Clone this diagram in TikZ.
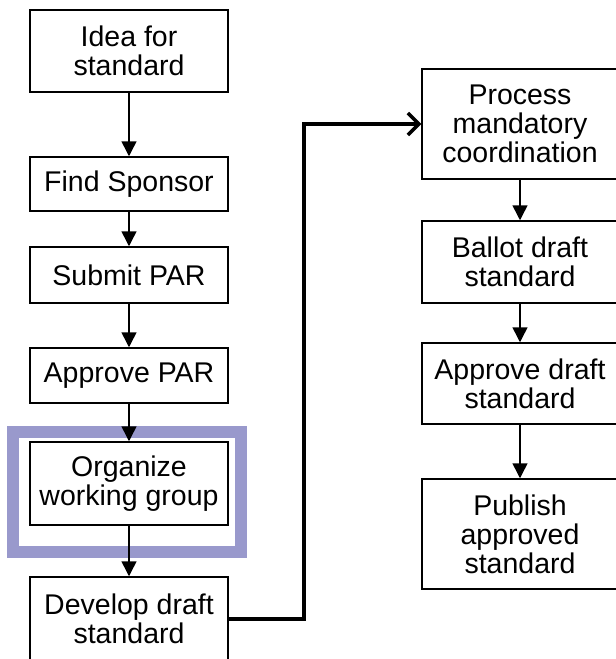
\documentclass[tikz,border=0pt]{standalone}
\usepackage{fontspec}
\setmainfont{Liberation Sans}
\usetikzlibrary{arrows.meta}

\definecolor{hilite}{RGB}{153,153,204}

\begin{document}
\begin{tikzpicture}[x=1pt, y=-1pt,
    stepbox/.style={draw, line width=1.5pt, align=center, inner sep=0pt,
      font=\fontsize{28.5}{29}\selectfont},
    flow/.style={line width=1.5pt, -{Triangle[width=15pt,length=15pt]}},
    jump/.style={line width=4pt, -{Straight Barb[width=22pt,length=11pt,line width=3.5pt]}}]
          \useasboundingbox (0, 0) rectangle (616, 659);%
          % left column
          \node [stepbox, minimum width=198pt, minimum height=82pt] (idea) at (129, 51) {Idea for\\standard};%
          \node [stepbox, minimum width=198pt, minimum height=54pt] (sponsor) at (129, 184) {Find Sponsor};%
          \node [stepbox, minimum width=198pt, minimum height=56pt] (submit) at (129, 275) {Submit PAR};%
          \node [stepbox, minimum width=198pt, minimum height=55pt] (approvepar) at (129, 375.5) {Approve PAR};%
          \node [stepbox, minimum width=198pt, minimum height=83pt] (organize) at (129, 483.5) {Organize\\working group};%
          \node [stepbox, minimum width=198pt, minimum height=83pt] (develop) at (129, 618.5) {Develop draft\\standard};%
          % right column
          \node [stepbox, minimum width=196pt, minimum height=110pt] (process) at (520, 124) {Process\\mandatory\\coordination};%
          \node [stepbox, minimum width=196pt, minimum height=82pt] (ballot) at (520, 262) {Ballot draft\\standard};%
          \node [stepbox, minimum width=196pt, minimum height=81pt] (approvedraft) at (520, 383.5) {Approve draft\\standard};%
          \node [stepbox, minimum width=196pt, minimum height=110pt] (publish) at (520, 534) {Publish\\approved\\standard};%
          % highlight
          \draw [hilite, line width=12pt] (13, 432) rectangle (241, 552);%
          % arrows
          \draw [flow] (idea) -- (sponsor);%
          \draw [flow] (sponsor) -- (submit);%
          \draw [flow] (submit) -- (approvepar);%
          \draw [flow] (approvepar) -- (organize);%
          \draw [flow] (organize) -- (develop);%
          \draw [jump] (develop.east) -- ++(75, 0) |- (process.west);%
          \draw [flow] (process) -- (ballot);%
          \draw [flow] (ballot) -- (approvedraft);%
          \draw [flow] (approvedraft) -- (publish);%
\end{tikzpicture}
\end{document}
